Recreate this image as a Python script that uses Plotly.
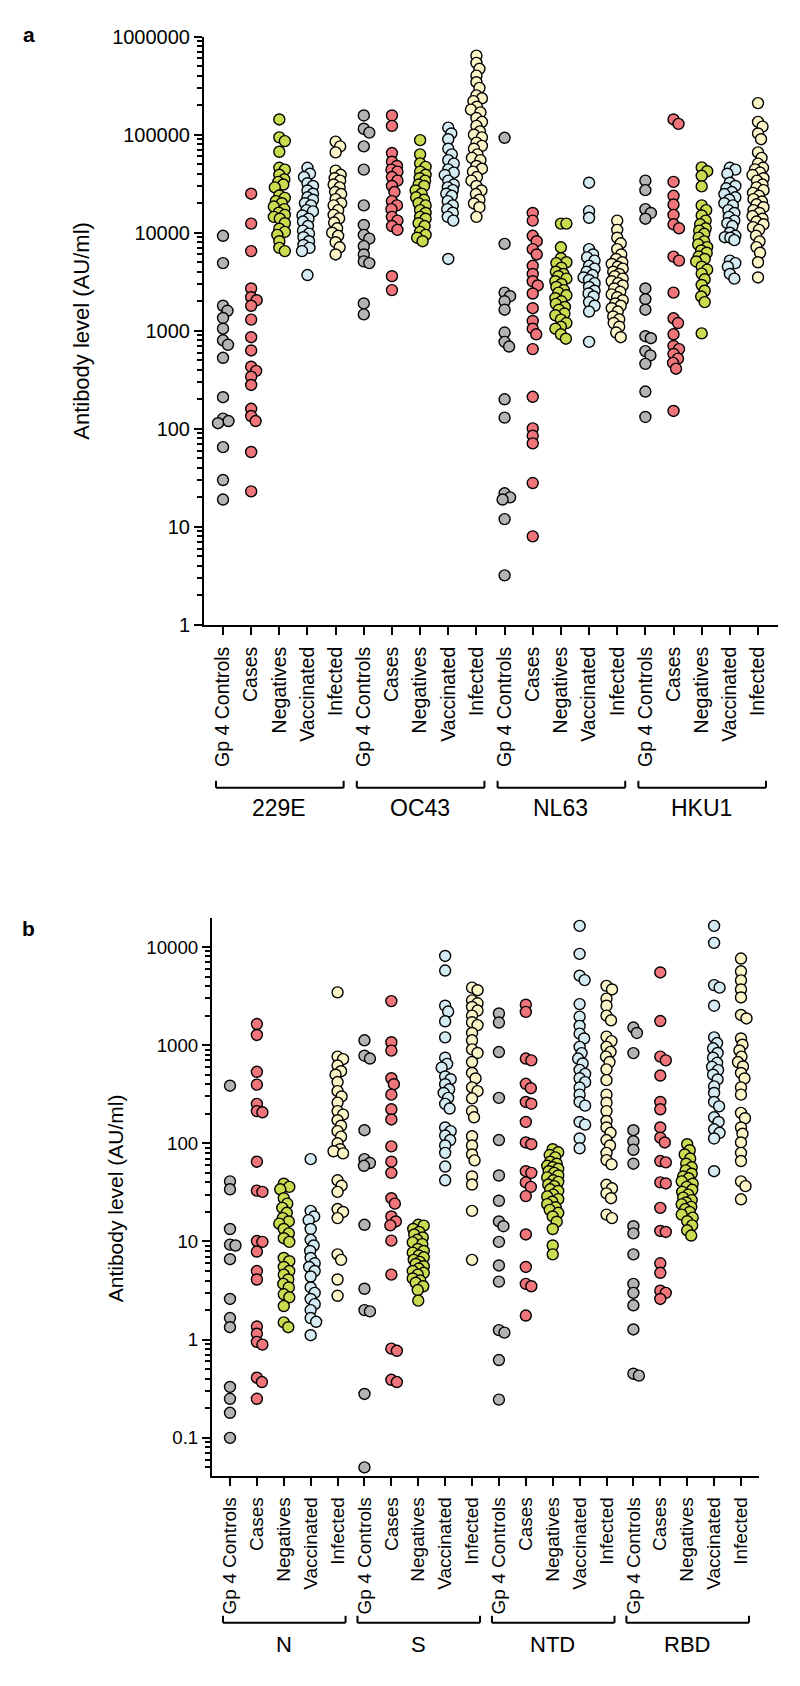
import numpy as np
import plotly.graph_objects as go

# subgroup names and colours
subgroups = ["Gp 4 Controls", "Cases", "Negatives", "Vaccinated", "Infected"]
colors = ["#b3b3b3", "#f0757b", "#cbdb4f", "#d4ebf3", "#fbf5c8"]

groups_a = ["229E", "OC43", "NL63", "HKU1"]
groups_b = ["N", "S", "NTD", "RBD"]

# ---- panel a: seasonal coronaviruses (AU/ml) ----
a_229E_ctrl = [9300, 4900, 1800, 1600, 1350, 1050, 800, 720, 530, 210, 127, 120, 114, 65, 30, 19]
a_229E_case = [25000, 12400, 6500, 2700, 2200, 2050, 1800, 1300, 860, 630, 430, 390, 340, 280, 160, 135, 120, 58, 23]
a_229E_neg = [143000, 94000, 86000, 67000, 46000, 44000, 39000, 35000, 33000, 31000, 29000, 24000, 22700, 21000,
              20000, 18500, 17400, 16000, 15200, 14500, 13900, 12500, 11000, 10200, 9500, 8200, 7000, 6500]
a_229E_vac = [46000, 40000, 37000, 32000, 30000, 27000, 25000, 23000, 21700, 20000, 19000, 17000, 16500, 15000,
              13900, 13000, 11700, 10500, 9800, 9000, 8200, 7500, 7000, 6500, 3700]
a_229E_inf = [85000, 76000, 66000, 43000, 39000, 36000, 34000, 31000, 29000, 26000, 24800, 22000, 20000, 19000,
              17000, 15200, 14000, 12700, 11100, 10000, 9300, 8000, 7100, 6000]
a_OC43_ctrl = [157000, 115000, 105000, 76000, 44000, 19000, 12000, 9500, 8700, 7300, 6000, 5100, 4900, 1900, 1470]
a_OC43_case = [157000, 123000, 65000, 53000, 48000, 44000, 42000, 37000, 34000, 30000, 26000, 21000, 19000, 17400,
               14500, 13300, 11700, 10700, 3600, 2600]
a_OC43_neg = [88000, 63000, 51000, 47000, 42000, 39000, 36000, 34000, 31000, 30000, 27000, 25000, 23000, 21700,
              20000, 19000, 17000, 15900, 14500, 13900, 12500, 11700, 10200, 9500, 8900, 8200]
a_OC43_vac = [118000, 103000, 90000, 72000, 63000, 55000, 50700, 44300, 41000, 38800, 34000, 31000, 29000, 27200,
              25000, 23800, 21000, 19000, 17400, 16000, 14500, 13300, 5400]
a_OC43_inf = [640000, 540000, 470000, 400000, 343000, 300000, 252000, 235000, 220000, 193000, 180000, 169000,
              148000, 135000, 123000, 108000, 100000, 94000, 83000, 77000, 72000, 63000, 58000, 55000, 48000, 45000,
              42000, 37000, 34000, 30000, 27000, 24800, 21700, 19900, 18200, 14500]
a_NL63_ctrl = [93000, 7700, 2450, 2250, 2000, 1640, 960, 770, 690, 200, 130, 22, 20, 19, 12, 3.2]
a_NL63_case = [15900, 13300, 9300, 8200, 6800, 6000, 4600, 3800, 3200, 2900, 2400, 1700, 1260, 1050, 920, 650,
               212, 101, 85, 71, 28, 8]
a_NL63_neg = [12400, 12400, 7100, 5500, 5000, 4900, 4400, 4000, 3800, 3600, 3400, 3200, 3000, 2800, 2600, 2450,
              2300, 2150, 2000, 1880, 1750, 1640, 1500, 1440, 1300, 1200, 1100, 1050, 920, 830]
a_NL63_vac = [32400, 16600, 14200, 6800, 6000, 5600, 5200, 4600, 4300, 4000, 3700, 3500, 3300, 3060, 2800, 2560,
              2400, 2240, 1960, 1800, 1570, 770]
a_NL63_inf = [13300, 10700, 8900, 7800, 6800, 6000, 5400, 5000, 4800, 4500, 4300, 4000, 3800, 3600, 3400, 3200,
              3060, 2900, 2700, 2500, 2350, 2200, 2050, 1900, 1800, 1700, 1570, 1400, 1310, 1200, 1100, 960, 860]
a_HKU1_ctrl = [34000, 27200, 17400, 15900, 13900, 2700, 2100, 1640, 880, 840, 620, 560, 460, 240, 132]
a_HKU1_case = [143000, 129000, 33000, 23800, 19400, 15200, 12200, 11100, 5700, 5200, 2450, 1340, 1200, 920, 700,
               650, 580, 520, 470, 410, 152]
a_HKU1_neg = [46400, 42400, 38100, 29700, 19000, 17000, 15000, 13300, 12200, 11100, 10500, 9750, 8910, 8170, 7600,
              7140, 6600, 6250, 5720, 5400, 5090, 4500, 4200, 3830, 3350, 2930, 2560, 2240, 1960, 940]
a_HKU1_vac = [46000, 44000, 40000, 32400, 30000, 28400, 26000, 24800, 23000, 21700, 20000, 19000, 17000, 15900,
              14500, 13300, 12500, 11700, 10000, 9300, 9000, 8900, 8400, 5200, 4900, 4500, 3800, 3400]
a_HKU1_inf = [210000, 135000, 121000, 103000, 90000, 66000, 58000, 50700, 46000, 44300, 41000, 38800, 36000, 34000,
              31000, 29000, 27200, 25500, 23800, 22000, 20800, 19500, 18200, 17000, 15900, 14800, 13900, 13000,
              12200, 11400, 10700, 9330, 8170, 7140, 6250, 5000, 3500]

# ---- panel b: SARS-CoV-2 antigens (AU/ml) ----
b_N_ctrl = [386, 41, 34, 13.4, 9.3, 9.1, 6.6, 2.6, 1.66, 1.34, 0.33, 0.25, 0.18, 0.1]
b_N_case = [1640, 1270, 535, 396, 252, 213, 207, 65, 33, 32, 10.1, 9.9, 7.9, 5.0, 4.1, 1.36, 1.15, 0.95, 0.89,
            0.41, 0.37, 0.25]
b_N_neg = [38.8, 36, 34, 27.6, 24.3, 22, 19.6, 17.3, 16, 15.2, 13.4, 12.1, 10.8, 9.9, 6.8, 6.3, 5.5, 5.0, 4.6, 4.1,
           3.7, 3.4, 2.9, 2.7, 2.2, 1.5, 1.34]
b_N_vac = [69, 20.5, 18, 16.5, 13.4, 10.4, 9.1, 8, 6.8, 6.0, 5.5, 5.0, 4.4, 3.4, 3.0, 2.6, 2.3, 2.0, 1.66, 1.52, 1.11]
b_N_inf = [3450, 764, 720, 620, 543, 500, 421, 340, 300, 260, 213, 196, 172, 151, 133, 117, 100, 87, 83, 79, 42,
           37, 32, 21.4, 20, 17.3, 7.4, 6.5, 4.1, 2.8]
b_S_ctrl = [1120, 780, 730, 136, 69, 63, 59, 14.8, 3.3, 2.0, 1.94, 0.28, 0.05]
b_S_case = [2810, 1070, 880, 460, 400, 313, 222, 175, 93, 65, 50, 27.6, 24.3, 18, 16, 14.6, 10.2, 4.6, 0.81, 0.77,
            0.39, 0.37]
b_S_neg = [14.8, 14.5, 13.4, 12.5, 11.8, 11, 10.4, 9.8, 9.4, 8.4, 8.0, 7.7, 7.2, 6.9, 6.5, 6.2, 5.9, 5.6, 5.3, 5.0,
           4.8, 4.6, 4.2, 4.0, 3.8, 3.5, 3.2, 2.5]
b_S_vac = [8100, 5750, 2520, 2200, 1750, 1200, 745, 645, 590, 480, 450, 400, 355, 326, 290, 252, 226, 145, 133,
           120, 108, 95, 80, 58, 42]
b_S_inf = [3850, 3630, 2860, 2670, 2450, 2250, 2000, 1710, 1600, 1330, 1120, 906, 832, 673, 521, 458, 371, 340,
           287, 213, 184, 118, 95, 77, 67, 46, 38, 20.5, 6.5]
b_NTD_ctrl = [2100, 1700, 850, 290, 108, 47, 26, 16, 14.3, 9.9, 5.7, 3.9, 1.25, 1.18, 0.62, 0.245]
b_NTD_case = [2580, 2180, 730, 700, 404, 364, 264, 253, 165, 102, 98, 52, 50, 40, 36, 29, 11.8, 5.5, 3.7, 3.5, 1.76]
b_NTD_neg = [87, 81, 76, 72, 65, 62, 59, 57, 55, 52, 50, 47, 45, 42, 40.5, 38, 36.6, 34, 32.7, 30, 28.8, 27, 25.4,
             24, 22.3, 21, 19.6, 18, 15.9, 13.4, 9.1, 7.4]
b_NTD_vac = [16400, 8500, 5100, 4600, 2620, 1950, 1570, 1310, 1170, 960, 830, 730, 650, 560, 510, 460, 420, 370,
             313, 264, 242, 165, 155, 112, 89]
b_NTD_inf = [4020, 3690, 2980, 2520, 2000, 1790, 1220, 1100, 961, 853, 764, 673, 567, 440, 313, 259, 213, 169, 145,
             128, 108, 95, 80, 67.5, 61, 37.8, 34.8, 30.9, 27.6, 18.8, 17.3]
b_RBD_ctrl = [1510, 1330, 830, 136, 105, 86, 62, 14.3, 12.1, 7.4, 3.7, 3.0, 2.24, 1.27, 0.45, 0.43]
b_RBD_case = [5500, 1760, 764, 700, 490, 264, 222, 145, 114, 102, 66, 64, 40, 39, 22, 12.8, 12.5, 6.0, 4.8, 3.15,
              3.0, 2.6]
b_RBD_neg = [98, 85, 77, 70, 62, 57, 53, 49, 46, 44, 41, 38.8, 36, 33.6, 32, 30, 28, 26.4, 25, 23.9, 22.5, 21.4, 20,
             18.8, 17.5, 16.1, 14.6, 13, 11.5]
b_RBD_vac = [16400, 11000, 4090, 3850, 2520, 1200, 1050, 929, 832, 745, 661, 600, 557, 500, 447, 380, 326, 264,
             238, 184, 165, 139, 128, 112, 52]
b_RBD_inf = [7620, 5650, 4570, 3690, 3060, 2030, 1870, 1170, 1010, 883, 764, 673, 607, 521, 458, 371, 313, 204,
             180, 145, 125, 102, 80, 66, 41, 36.6, 26.9]

panel_a = [a_229E_ctrl, a_229E_case, a_229E_neg, a_229E_vac, a_229E_inf,
           a_OC43_ctrl, a_OC43_case, a_OC43_neg, a_OC43_vac, a_OC43_inf,
           a_NL63_ctrl, a_NL63_case, a_NL63_neg, a_NL63_vac, a_NL63_inf,
           a_HKU1_ctrl, a_HKU1_case, a_HKU1_neg, a_HKU1_vac, a_HKU1_inf]
panel_b = [b_N_ctrl, b_N_case, b_N_neg, b_N_vac, b_N_inf,
           b_S_ctrl, b_S_case, b_S_neg, b_S_vac, b_S_inf,
           b_NTD_ctrl, b_NTD_case, b_NTD_neg, b_NTD_vac, b_NTD_inf,
           b_RBD_ctrl, b_RBD_case, b_RBD_neg, b_RBD_vac, b_RBD_inf]

W, H = 800, 1686
FONT = "Liberation Sans, Arial, sans-serif"

# pixel geometry of the two plot areas
A = dict(x0=204, x1=778, y0=26, y1=622, xr=[-0.675, 19.71], yr=[0, 6])
B = dict(x0=212, x1=759, y0=919, y1=1484, xr=[-0.669, 19.67], yr=[-1.385, 4.295])


def swarm(vals, ppd, ppc, dmin=6.5, maxoff=5.5, step=0.5):
    """simple beeswarm: horizontal offsets (in category units)"""
    y = np.log10(np.asarray(vals, float)) * ppd
    cand = [0.0]
    k = 1
    while k * step <= maxoff:
        cand += [k * step, -k * step]
        k += 1
    placed = []
    offs = np.zeros(len(y))
    for i in np.argsort(-y):
        best, bestd = 0.0, -1.0
        for c in cand:
            d = min((np.hypot(c - px, y[i] - py) for px, py in placed), default=1e9)
            if d >= dmin:
                best = c
                break
            if d > bestd:
                best, bestd = c, d
        offs[i] = best
        placed.append((best, y[i]))
    return offs / ppc


fig = go.Figure()

for panel, geo, xa, ya in [(panel_a, A, "x", "y"), (panel_b, B, "x2", "y2")]:
    ppc = (geo["x1"] - geo["x0"]) / (geo["xr"][1] - geo["xr"][0])
    ppd = (geo["y1"] - geo["y0"]) / (geo["yr"][1] - geo["yr"][0])
    for i, vals in enumerate(panel):
        offs = swarm(vals, ppd, ppc)
        fig.add_trace(go.Scatter(
            x=i + offs, y=vals, mode="markers", xaxis=xa, yaxis=ya,
            marker=dict(size=11, color=colors[i % 5], line=dict(color="black", width=1.4)),
            showlegend=False, hoverinfo="y"))


def px_x(p):
    return p / W


def px_y(p):
    return 1 - p / H


def minor_vals(lo, hi):
    out = []
    for e in range(int(np.floor(lo)), int(np.ceil(hi)) + 1):
        for k in range(2, 10):
            v = k * 10.0 ** e
            if lo <= np.log10(v) <= hi:
                out.append(v)
    return out


def fmt(v):
    return ("%g" % v) if v < 1 else str(int(round(v)))


def yaxis_cfg(geo, size):
    dec = [10.0 ** e for e in range(int(np.ceil(geo["yr"][0])), int(np.floor(geo["yr"][1])) + 1)]
    return dict(
        type="log", range=geo["yr"], domain=[px_y(geo["y1"]), px_y(geo["y0"])],
        tickmode="array", tickvals=dec, ticktext=[fmt(v) for v in dec],
        ticks="outside", ticklen=8, tickwidth=2, tickcolor="black",
        minor=dict(tickmode="array", tickvals=minor_vals(*geo["yr"]), ticks="outside",
                   ticklen=5, tickwidth=1.5, tickcolor="black", showgrid=False),
        showline=True, linewidth=2, linecolor="black", showgrid=False, zeroline=False,
        tickfont=dict(family=FONT, size=size, color="black"))


def xaxis_cfg(geo, size):
    return dict(
        range=geo["xr"], domain=[px_x(geo["x0"]), px_x(geo["x1"])],
        tickmode="array", tickvals=list(range(20)), ticktext=subgroups * 4, tickangle=-90,
        ticks="outside", ticklen=8, tickwidth=2, tickcolor="black", ticklabelstandoff=4,
        showline=True, linewidth=2, linecolor="black", showgrid=False, zeroline=False,
        tickfont=dict(family=FONT, size=size, color="black"))


fig.update_layout(
    width=W, height=H, margin=dict(l=0, r=0, t=0, b=0),
    paper_bgcolor="white", plot_bgcolor="white",
    xaxis=dict(xaxis_cfg(A, 19.5), anchor="y"),
    yaxis=dict(yaxis_cfg(A, 20), anchor="x"),
    xaxis2=dict(xaxis_cfg(B, 19), anchor="y2"),
    yaxis2=dict(yaxis_cfg(B, 18.7), anchor="x2"),
)


def label(text, x, y, size, xref="paper", angle=0):
    return dict(text=text, x=x, y=y, xref=xref, yref="paper", textangle=angle,
                xanchor="center", yanchor="middle", showarrow=False,
                font=dict(family=FONT, size=size, color="black"))


ann = [
    label("<b>a</b>", px_x(29), px_y(24), 21),
    label("<b>b</b>", px_x(29), px_y(930), 21),
    label("Antibody level (AU/ml)", px_x(82), px_y(324), 22, angle=-90),
    label("Antibody level (AU/ml)", px_x(115), px_y(1203), 21, angle=-90),
]
shapes = []

for names, geo, xref, ybr, ylab, fs in [(groups_a, A, "x", 787, 808, 23), (groups_b, B, "x2", 1633, 1655, 22)]:
    ppc = (geo["x1"] - geo["x0"]) / (geo["xr"][1] - geo["xr"][0])
    for g, name in enumerate(names):
        xs = 5 * g - 7 / ppc
        xe = 5 * g + 4 + 8 / ppc
        for seg in [(xs, ybr, xe, ybr), (xs, ybr, xs, ybr - 7), (xe, ybr, xe, ybr - 7)]:
            shapes.append(dict(type="line", xref=xref, yref="paper", x0=seg[0], x1=seg[2],
                               y0=px_y(seg[1]), y1=px_y(seg[3]), line=dict(color="black", width=2)))
        ann.append(label(name, 5 * g + 2, px_y(ylab), fs, xref=xref))

fig.update_layout(annotations=ann, shapes=shapes)

fig.write_html("out.html", config={"displayModeBar": False},
               post_script="document.body.style.margin='0px';")
